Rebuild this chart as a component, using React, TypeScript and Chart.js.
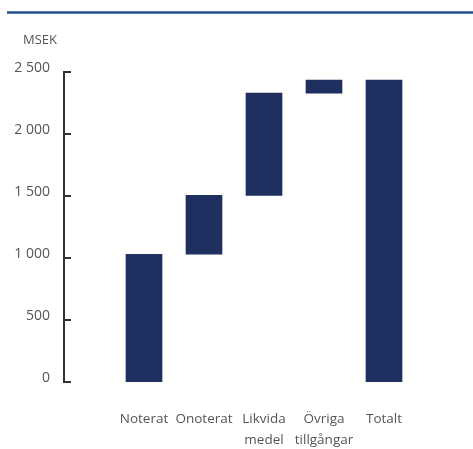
import React, { useEffect, useRef } from "react";
import { Chart, registerables } from "chart.js";

Chart.register(...registerables);

// Asset categories (multi-line labels) and their contributions in MSEK
const categories: string[][] = [
  ["Noterat"],
  ["Onoterat"],
  ["Likvida", "medel"],
  ["Övriga", "tillgångar"],
];
const totalLabel: string[] = ["Totalt"];
const increments: number[] = [1030, 475, 825, 105];
const yTicks: number[] = [0, 500, 1000, 1500, 2000, 2500];
const unitLabel = "MSEK";

const BAR_COLOR = "#1e2f60";
const TEXT_COLOR = "#555555";
const FONT = "'Open Sans', sans-serif";

const fmt = (v: number) => String(v).replace(/\B(?=(\d{3})+(?!\d))/g, " ");

export default function App() {
  const canvasRef = useRef<HTMLCanvasElement | null>(null);

  useEffect(() => {
    if (!canvasRef.current) return;

    // Build floating segments for the waterfall
    const labels = [...categories, totalLabel];
    const segments: { x: number; y: [number, number] }[] = [];
    let running = 0;
    increments.forEach((inc, i) => {
      segments.push({ x: i + 1, y: [running, running + inc] });
      running += inc;
    });
    segments.push({ x: labels.length, y: [0, running] });

    const decorations = {
      id: "decorations",
      afterDraw(chart: any) {
        const { ctx } = chart;
        const yScale = chart.scales.y;
        ctx.save();
        // Header rule
        ctx.strokeStyle = "#1f4e8d";
        ctx.lineWidth = 2.5;
        ctx.beginPath();
        ctx.moveTo(7, 12.5);
        ctx.lineTo(chart.width, 12.5);
        ctx.stroke();
        // Unit label
        ctx.fillStyle = TEXT_COLOR;
        ctx.font = `13px ${FONT}`;
        ctx.textAlign = "left";
        ctx.textBaseline = "alphabetic";
        ctx.fillText(unitLabel, 23, 44);
        // Inward tick marks on the value axis
        ctx.strokeStyle = "#333333";
        ctx.lineWidth = 2;
        const left = chart.chartArea.left;
        yTicks.forEach((v) => {
          const y = Math.round(yScale.getPixelForValue(v));
          ctx.beginPath();
          ctx.moveTo(left - 1, y);
          ctx.lineTo(left + 7, y);
          ctx.stroke();
        });
        ctx.restore();
      },
    };

    const chart = new Chart(canvasRef.current, {
      type: "bar",
      data: {
        datasets: [
          {
            data: segments as any,
            backgroundColor: BAR_COLOR,
            borderWidth: 0,
            barThickness: 36,
          },
        ],
      },
      options: {
        animation: false,
        responsive: true,
        maintainAspectRatio: false,
        layout: { padding: { top: 72, right: 9, bottom: 0, left: 0 } },
        plugins: {
          legend: { display: false },
          tooltip: { enabled: false },
        },
        scales: {
          x: {
            type: "linear",
            offset: false,
            min: -1 / 3,
            max: 19 / 3,
            grid: { display: false, drawTicks: false, offset: false },
            border: { display: false },
            afterBuildTicks: (s: any) => {
              s.ticks = labels.map((_, i) => ({ value: i + 1 }));
            },
            afterFit: (s: any) => {
              s.height = 67;
            },
            ticks: {
              autoSkip: false,
              maxRotation: 0,
              padding: 27,
              color: TEXT_COLOR,
              font: { family: FONT, size: 13.5, lineHeight: 1.55 },
              callback: (v: any) => {
                const idx = Math.round(Number(v)) - 1;
                return labels[idx] ?? "";
              },
            },
          },
          y: {
            min: 0,
            max: 2500,
            grid: { display: false, drawTicks: false },
            border: { display: true, color: "#333333", width: 2 },
            afterBuildTicks: (s: any) => {
              s.ticks = yTicks.map((v) => ({ value: v }));
            },
            afterFit: (s: any) => {
              s.width = 64;
            },
            ticks: {
              padding: 14,
              labelOffset: -4,
              color: TEXT_COLOR,
              font: { family: FONT, size: 14 },
              callback: (v: any) => fmt(Number(v)),
            },
          },
        },
      },
      plugins: [decorations],
    });

    return () => chart.destroy();
  }, []);

  return (
    <div
      style={{
        position: "absolute",
        left: 0,
        top: 0,
        width: 473,
        height: 449,
        background: "#ffffff",
      }}
    >
      <canvas ref={canvasRef} />
    </div>
  );
}
